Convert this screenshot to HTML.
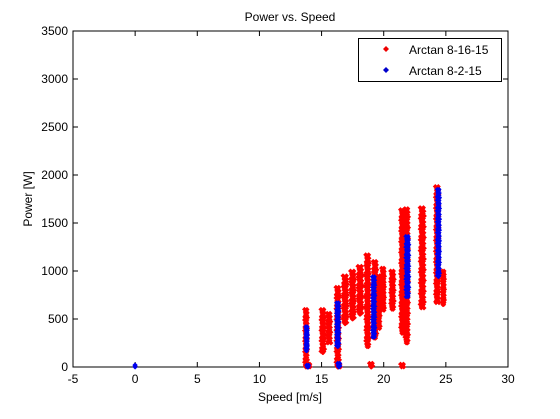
<!DOCTYPE html>
<html><head><meta charset="utf-8"><style>
body{margin:0;background:#fff;}
svg text{font-family:"Liberation Sans",sans-serif;font-size:12px;fill:#000;}
</style></head><body>
<svg id="chart" width="560" height="414">
<rect x="0" y="0" width="560" height="414" fill="#fff"/>
<rect x="73" y="31" width="435" height="336" fill="#fff" stroke="#000" stroke-width="1"/>
<text x="290" y="21" text-anchor="middle">Power vs. Speed</text>
<text x="290" y="401" text-anchor="middle">Speed [m/s]</text>
<text x="32" y="199" text-anchor="middle" transform="rotate(-90 32 199)">Power [W]</text>
<g id="ticks"></g>
<g id="marks"></g>
<g>
<rect x="358.5" y="38.5" width="143" height="43" fill="#fff" stroke="#000"/>
<path d="M386 46 L389 49 L386 52 L383 49 Z" fill="#e00"/>
<text x="409" y="54">Arctan 8-16-15</text>
<path d="M386 67 L389 70 L386 73 L383 70 Z" fill="#00c"/>
<text x="409" y="75">Arctan 8-2-15</text>
</g>
</svg>
<script>
const xTicks=[-5,0,5,10,15,20,25,30];
const yTicks=[0,500,1000,1500,2000,2500,3000,3500];
// red series bands: speed, min power, max power, spread (m/s)
const redSpeed=[13.75,15.1,15.6,16.3,16.9,17.5,18.1,18.7,19.3,19.6,19.95,20.7,21.5,21.85,23.1,24.3,24.8,19.0,21.5,16.4,14.0];
const redMin=[0,150,250,0,450,500,550,210,300,400,590,600,350,250,615,670,650,0,0,0,0];
const redMax=[600,600,560,830,950,1000,1050,1170,1100,950,1030,1000,1640,1650,1660,1880,1000,40,30,30,30];
const redSpread=[0.25,0.3,0.3,0.3,0.35,0.35,0.35,0.3,0.3,0.25,0.25,0.3,0.3,0.3,0.35,0.3,0.2,0.3,0.3,0.3,0.2];
// blue series bands
const blueSpeed=[13.8,16.3,19.2,21.9,24.4,0,13.9,16.4];
const blueMin=[170,210,310,730,940,0,0,0];
const blueMax=[420,670,940,1360,1850,20,20,40];
const blueSpread=[0.15,0.2,0.2,0.25,0.2,0.05,0.2,0.2];
const X=s=>73+(s+5)*435/35;
const Y=p=>367-p*336/3500;
const NS="http://www.w3.org/2000/svg";
const tg=document.getElementById('ticks');
xTicks.forEach(t=>{
 const x=X(t);
 const l=document.createElementNS(NS,'path');
 l.setAttribute('d',`M${x} 367 V362 M${x} 31 V36`);l.setAttribute('stroke','#000');
 
 
 tg.appendChild(l);
 const tx=document.createElementNS(NS,'text');
 tx.setAttribute('x',x);tx.setAttribute('y',383);tx.setAttribute('text-anchor','middle');tx.textContent=t;
 
 
 tg.appendChild(tx);
});
yTicks.forEach(t=>{
 const y=Y(t);
 const l=document.createElementNS(NS,'path');
 l.setAttribute('d',`M73 ${y} H78 M508 ${y} H503`);l.setAttribute('stroke','#000');
 
 
 tg.appendChild(l);
 const tx=document.createElementNS(NS,'text');
 tx.setAttribute('x',68);tx.setAttribute('y',y+4);tx.setAttribute('text-anchor','end');tx.textContent=t;
 
 
 tg.appendChild(tx);
});
const mg=document.getElementById('marks');
function dia(cx,y){return `M${cx.toFixed(1)} ${(y-2.5).toFixed(1)}L${(cx+2.5).toFixed(1)} ${y.toFixed(1)}L${cx.toFixed(1)} ${(y+2.5).toFixed(1)}L${(cx-2.5).toFixed(1)} ${y.toFixed(1)}Z`;}
function band(sp,mn,mx,spr,color,name){
 const g=document.createElementNS(NS,'g');
 
 
 let d='';
 const pattern=[-1,0.2,-0.5,0.8,-0.2,0.5,-0.8,1,0];
 for(let i=0;i<sp.length;i++){
  const y0=Y(mx[i]),y1=Y(mn[i]);const n=Math.max(2,Math.ceil((y1-y0)/1.2));
  for(let k=0;k<=n;k++){
   const y=y0+(y1-y0)*k/n;
   const o=pattern[k%pattern.length]*spr[i]/2;
   d+=dia(X(sp[i]+o),y);
   d+=dia(X(sp[i]-o*0.6),y);
  }
 }
 const p=document.createElementNS(NS,'path');
 p.setAttribute('d',d);p.setAttribute('fill',color);
 
 
 g.appendChild(p);mg.appendChild(g);
}
band(redSpeed,redMin,redMax,redSpread,'#f00','series-arctan-8-16-15');
band(blueSpeed,blueMin,blueMax,blueSpread,'#00e','series-arctan-8-2-15');
</script>
</body></html>
